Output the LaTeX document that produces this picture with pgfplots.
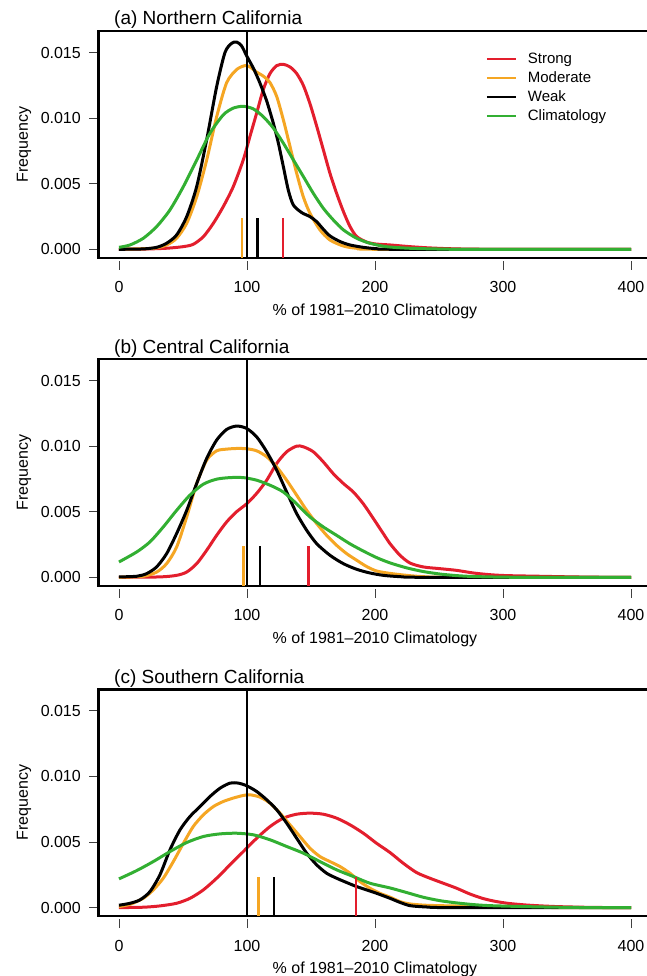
\documentclass[border=0pt]{standalone}
\usepackage{fontspec}
\setmainfont{Liberation Sans}
\usepackage{pgfplots}
\pgfplotsset{compat=1.18}
\definecolor{cstrong}{HTML}{E31E2D}
\definecolor{cmod}{HTML}{F5A623}
\definecolor{cclim}{HTML}{32AF32}

\pgfplotsset{
  panel/.style={
    scale only axis, width=553pt, height=226.7pt,
    anchor=south west,
    xmin=-16, xmax=416, ymin=-0.00064, ymax=0.01664,
    axis line style={line width=2.4pt},
    xtick={0,100,200,300,400},
    xticklabels={0,100,200,300,400},
    ytick={0,0.005,0.01,0.015},
    yticklabels={0.000,0.005,0.010,0.015},
    scaled y ticks=false,
    tick align=outside, tick pos=left,
    major tick length=9pt,
    tick style={black!75, line width=0.8pt},
    xtick style={yshift=-3pt},
    ticklabel style={font=\fontsize{16}{19}\selectfont, inner sep=0pt},
    xticklabel style={anchor=base, yshift=-26pt},
    yticklabel style={anchor=east, xshift=-8.5pt},
    xlabel={\% of 1981--2010 Climatology},
    ylabel={Frequency},
    label style={font=\fontsize{16}{19}\selectfont, inner sep=0pt},
    xlabel style={at={(axis description cs:0.5,-0.2528)}, anchor=base},
    ylabel style={at={(axis description cs:-0.1347,0.5)}, anchor=center, rotate=0},
    clip mode=individual,
    every axis plot/.append style={line width=3pt, smooth, tension=0.45},
  },
}
\tikzset{ptitle/.style={anchor=base west, font=\fontsize{19}{23}\selectfont, inner sep=0pt}}

\begin{document}
\begin{tikzpicture}[x=1pt,y=1pt]
\useasboundingbox (0,0) rectangle (646,-976);

% ---------------- (a) Northern California
\begin{axis}[panel, at={(98.5pt,-257.7pt)},
  legend style={at={(axis description cs:0.6998,0.9118)}, anchor=north west,
    draw=none, fill=none, inner sep=0pt, row sep=2.6pt,
    font=\fontsize{15}{18}\selectfont, cells={anchor=west},
    /tikz/every odd column/.append style={column sep=9pt}},
  legend image code/.code={\draw[#1, line width=2.2pt] (0pt,0pt) -- (29pt,0pt);},
]
\addplot[cstrong] coordinates {
 (0,0) (20,0.00002) (37,0.00008) (50,0.0002) (58,0.00038) (66,0.00097)
 (73.7,0.00198) (81.5,0.00326) (89.3,0.00478) (97.1,0.00682) (102.3,0.0086)
 (107.6,0.0104) (112.8,0.0122) (118,0.0134) (123.2,0.0140) (128.4,0.0141)
 (133.6,0.0139) (138.8,0.0134) (144,0.0125) (149.2,0.0111) (154.4,0.0094)
 (159.6,0.0076) (164.8,0.0058) (170,0.00427) (175.3,0.00288) (180.5,0.00173)
 (185.7,0.00097) (193.5,0.00055) (201,0.0004) (212,0.00033) (225,0.00022)
 (240,0.00012) (260,0.00004) (290,0) (400,0)};
\addlegendentry{Strong}
\addplot[cmod] coordinates {
 (0,0) (26.8,0.00008) (37.2,0.00033) (45,0.00084) (52.9,0.00198) (60.7,0.0040)
 (68.5,0.0068) (76.3,0.0101) (84.1,0.0127) (91.9,0.0137) (98.4,0.0140)
 (102.3,0.0139) (107.6,0.0135) (112.8,0.0132) (118,0.0127) (123.2,0.01165)
 (128.4,0.00987) (133.6,0.00784) (138.8,0.0058) (144,0.0040) (149.2,0.00275)
 (157,0.00148) (164.8,0.00071) (175.3,0.00025) (185.7,0.00008) (205,0) (400,0)};
\addlegendentry{Moderate}
\addplot[black] coordinates {
 (0,0) (19,0.00003) (29.4,0.00015) (37.2,0.00046) (45,0.00109) (52.9,0.00249)
 (60.7,0.00478) (68.5,0.00835) (76.3,0.0124) (82.8,0.0150) (88,0.0157)
 (91.9,0.0158) (95.8,0.0155) (100,0.0147) (105,0.0138) (110,0.0127)
 (115.4,0.0113) (120.6,0.0096) (124.5,0.0081) (128.4,0.0063) (132.3,0.0045)
 (136.2,0.00338) (142.7,0.0028) (149.2,0.00249) (154.4,0.00211) (159.6,0.00153)
 (164.8,0.00102) (172.7,0.00059) (180.5,0.00033) (190.9,0.00015) (201,0.00005)
 (220,0) (400,0)};
\addlegendentry{Weak}
\addplot[cclim] coordinates {
 (0,0.00015) (8.6,0.00033) (19,0.00084) (29.4,0.00173) (39.8,0.0030)
 (50.3,0.00478) (60.7,0.0068) (71.1,0.00885) (81.5,0.01025) (89.3,0.01076)
 (97.1,0.0109) (105,0.0107) (112.8,0.0101) (120.6,0.00924) (128.4,0.00809)
 (136.2,0.00682) (144,0.00555) (151.8,0.00427) (159.6,0.00313) (167.4,0.00224)
 (175.3,0.00148) (185.7,0.00084) (196,0.00046) (209,0.0002) (227,0.00008)
 (250,0.00002) (270,0) (400,0)};
\addlegendentry{Climatology}
\addplot[black, line width=1.3pt, sharp plot, forget plot] coordinates {(100,-0.00064) (100,0.01664)};
\addplot[cmod, line width=2.6pt, sharp plot, forget plot] coordinates {(96.1,-0.00064) (96.1,0.00237)};
\addplot[black, line width=2.6pt, sharp plot, forget plot] coordinates {(108.2,-0.00064) (108.2,0.00237)};
\addplot[cstrong, line width=2.6pt, sharp plot, forget plot] coordinates {(128.2,-0.00064) (128.2,0.00237)};
\node[ptitle] at (axis description cs:0.028,1) [yshift=6pt] {(a) Northern California};
\end{axis}

% ---------------- (b) Central California
\begin{axis}[panel, at={(98.5pt,-585.7pt)}]
\addplot[cstrong] coordinates {
 (0,0) (32,0.00003) (45,0.00015) (52.9,0.0004) (60.7,0.00104) (68.5,0.00206)
 (76.3,0.0032) (84.1,0.00422) (91.9,0.0050) (99.7,0.0056) (107.6,0.0064)
 (115.4,0.0074) (123.2,0.00868) (131,0.00957) (138.8,0.0100) (144,0.00995)
 (151.8,0.00957) (159.6,0.0088) (167.4,0.0079) (175.3,0.00715) (183.1,0.0065)
 (190.9,0.0056) (198.7,0.00448) (206.5,0.00333) (211.7,0.00257) (219.5,0.00168)
 (227.3,0.00109) (237.7,0.00079) (250.7,0.00066) (263.7,0.00053) (276.8,0.00033)
 (289.8,0.0002) (302.8,0.00013) (328.8,0.00008) (355,0.00003) (380,0) (400,0)};
\addplot[cmod] coordinates {
 (0,0) (19,0.00008) (29.4,0.0004) (37.2,0.00104) (45,0.0023) (52.9,0.0046)
 (60.7,0.00715) (68.5,0.00893) (76.3,0.00964) (84.1,0.00977) (91.9,0.00982)
 (99.7,0.0098) (107.6,0.00964) (115.4,0.00919) (123.2,0.00842) (131,0.0074)
 (138.8,0.00626) (146.6,0.00511) (154.4,0.0041) (162.2,0.0032) (170,0.00244)
 (177.9,0.0018) (185.7,0.0013) (193.5,0.00082) (201.3,0.00048) (211.7,0.0003)
 (224.7,0.00015) (237.7,0.00005) (260,0) (400,0)};
\addplot[black] coordinates {
 (0,0.00003) (13.8,0.00008) (21.6,0.00028) (29.4,0.00079) (37.2,0.0018)
 (45,0.00333) (52.9,0.0051) (60.7,0.00715) (68.5,0.00906) (76.3,0.01046)
 (84.1,0.01127) (91.9,0.01153) (99.7,0.01135) (107.6,0.0107) (115.4,0.00957)
 (123.2,0.00817) (131,0.0065) (138.8,0.00486) (146.6,0.00359) (154.4,0.00257)
 (164.8,0.00168) (175.3,0.00104) (185.7,0.00061) (196,0.00033) (206.5,0.00015)
 (219.5,0.00005) (240,0) (400,0)};
\addplot[cclim] coordinates {
 (0,0.00117) (13.8,0.00193) (24.2,0.0027) (34.6,0.00384) (45,0.0051)
 (55.4,0.00626) (65.9,0.0071) (76.3,0.00748) (86.7,0.0076) (97.1,0.0076)
 (107.6,0.0074) (118,0.00702) (128.4,0.0065) (138.8,0.0056) (149.2,0.0046)
 (159.6,0.00384) (170,0.0032) (180.5,0.00255) (190.9,0.002) (201.3,0.0015)
 (211.7,0.0011) (224.7,0.00072) (237.7,0.00044) (250.7,0.00025) (263.7,0.00013)
 (276.8,0.00006) (300,0.00001) (320,0) (400,0)};
\addplot[black, line width=1.3pt, sharp plot] coordinates {(100,-0.00064) (100,0.01664)};
\addplot[cmod, line width=2.6pt, sharp plot] coordinates {(97.3,-0.00064) (97.3,0.00237)};
\addplot[black, line width=2.6pt, sharp plot] coordinates {(110.2,-0.00064) (110.2,0.00237)};
\addplot[cstrong, line width=2.6pt, sharp plot] coordinates {(148.2,-0.00064) (148.2,0.00237)};
\node[ptitle] at (axis description cs:0.028,1) [yshift=6pt] {(b) Central California};
\end{axis}

% ---------------- (c) Southern California
\begin{axis}[panel, at={(98.5pt,-916pt)}]
\addplot[cstrong] coordinates {
 (0,0) (19,0.00003) (32,0.00013) (45,0.00033) (55.5,0.00071) (65.9,0.00135)
 (76.3,0.00224) (86.7,0.00326) (97.1,0.00427) (107.6,0.00529) (118,0.00618)
 (128.4,0.00682) (138.8,0.00712) (149.2,0.0072) (159.6,0.00712) (170,0.00682)
 (180.5,0.00631) (190.9,0.00567) (201.3,0.0049) (211.7,0.0042) (222.1,0.00338)
 (232.5,0.00267) (242.9,0.00224) (253.3,0.00186) (263.7,0.00148) (274.1,0.00104)
 (284.5,0.00069) (294.9,0.00046) (305.3,0.00031) (320.9,0.00018) (341.7,0.00008)
 (367.7,0.00002) (390,0) (400,0)};
\addplot[cmod] coordinates {
 (0,0.00008) (8.6,0.00025) (19,0.00071) (26.8,0.00135) (34.6,0.00224)
 (42.4,0.0035) (50.3,0.0049) (58,0.00618) (65.9,0.00707) (73.7,0.0077)
 (81.5,0.00809) (89.3,0.00835) (97.1,0.00855) (102.3,0.0086) (110.2,0.00842)
 (118,0.00796) (125.8,0.0072) (133.6,0.00631) (141.4,0.00542) (149.2,0.00453)
 (157,0.00389) (164.8,0.00351) (172.7,0.00313) (180.5,0.00262) (188.3,0.00198)
 (196,0.00148) (203.9,0.00109) (211.7,0.0008) (219.5,0.00046) (227.3,0.00028)
 (240,0.00018) (260,0.00013) (290,0.00008) (320,0.00003) (350,0) (400,0)};
\addplot[black] coordinates {
 (0,0.00018) (8.6,0.00033) (16.4,0.00059) (24.2,0.00122) (32,0.0025)
 (39.8,0.0044) (47.7,0.00593) (55.5,0.00695) (63.3,0.0077) (71.1,0.00847)
 (78.9,0.0091) (86.7,0.00949) (93.2,0.00949) (99.7,0.00929) (107.6,0.00885)
 (115.4,0.00822) (123.2,0.00746) (131,0.00644) (138.8,0.00529) (146.6,0.00415)
 (154.4,0.00326) (162.2,0.00262) (170,0.00224) (177.9,0.00191) (185.7,0.0016)
 (193.5,0.00135) (201.3,0.00109) (211.7,0.00071) (219.5,0.0004) (227.3,0.00015)
 (240,0.00005) (260,0) (400,0)};
\addplot[cclim] coordinates {
 (0,0.00219) (13.8,0.00282) (26.8,0.00351) (39.8,0.00427) (52.9,0.00496)
 (65.9,0.00542) (78.9,0.00562) (91.9,0.00567) (104.9,0.00555) (118,0.00517)
 (131,0.00466) (144,0.00415) (157,0.00351) (170,0.00288) (183.1,0.00237)
 (196,0.00186) (211.7,0.0015) (224.7,0.00115) (237.7,0.00079) (250.7,0.00053)
 (263.7,0.00036) (276.8,0.00023) (289.8,0.00015) (315.9,0.00008) (342,0.00003)
 (370,0) (400,0)};
\addplot[black, line width=1.3pt, sharp plot] coordinates {(100,-0.00064) (100,0.01664)};
\addplot[cmod, line width=2.6pt, sharp plot] coordinates {(109.2,-0.00064) (109.2,0.00237)};
\addplot[black, line width=2.6pt, sharp plot] coordinates {(121.2,-0.00064) (121.2,0.00237)};
\addplot[cstrong, line width=2.6pt, sharp plot] coordinates {(185.3,-0.00064) (185.3,0.00237)};
\node[ptitle] at (axis description cs:0.028,1) [yshift=6pt] {(c) Southern California};
\end{axis}
\end{tikzpicture}
\end{document}
